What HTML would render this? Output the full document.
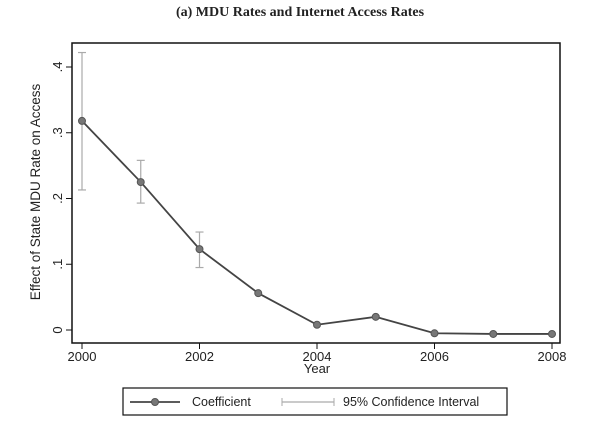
<!DOCTYPE html>
<html><head><meta charset="utf-8"><style>
body{margin:0;background:#fff;width:600px;height:442px;overflow:hidden}
svg{display:block}
text{font-family:"Liberation Sans",sans-serif;fill:#222}
</style></head><body>
<svg width="600" height="442">
<text x="300" y="16" text-anchor="middle" style="font-family:'Liberation Serif',serif;font-size:14px;font-weight:bold">(a) MDU Rates and Internet Access Rates</text>
<rect x="72" y="43" width="488" height="300" fill="none" stroke="#111" stroke-width="1.5"/>
<g id="axes"></g><g id="ci"></g><g id="series"></g>
<text x="0" y="0" transform="translate(40,192) rotate(-90)" text-anchor="middle" font-size="13.5">Effect of State MDU Rate on Access</text>
<text x="317" y="373" text-anchor="middle" font-size="13">Year</text>
<g>
<rect x="123" y="388" width="384" height="27" fill="none" stroke="#111" stroke-width="1.2"/>
<line x1="130" y1="402" x2="180" y2="402" stroke="#444" stroke-width="1.8"/>
<circle cx="155" cy="402" r="3.5" fill="#777" stroke="#555"/>
<text x="192" y="406" font-size="12.5">Coefficient</text>
<line x1="282" y1="402" x2="334" y2="402" stroke="#aaa" stroke-width="1.2"/>
<line x1="282" y1="398" x2="282" y2="406" stroke="#aaa"/><line x1="334" y1="398" x2="334" y2="406" stroke="#aaa"/>
<text x="343" y="406" font-size="12.5">95% Confidence Interval</text>
</g>
</svg>
<script>
const years=[2000,2001,2002,2003,2004,2005,2006,2007,2008];
const coef=[0.318,0.225,0.123,0.056,0.008,0.020,-0.005,-0.006,-0.006];
const ciLow=[0.213,0.193,0.095,null,null,null,null,null,null];
const ciHigh=[0.422,0.258,0.149,null,null,null,null,null,null];
const xTicks=[2000,2002,2004,2006,2008];
const yTicks=[0,0.1,0.2,0.3,0.4];
const yLabels=["0",".1",".2",".3",".4"];
const NS="http://www.w3.org/2000/svg";
const X=v=>82+(v-2000)*58.75, Y=v=>330-v*657.5;
function mk(tag,attrs,parent){const e=document.createElementNS(NS,tag);for(const k in attrs)e.setAttribute(k,attrs[k]);parent.appendChild(e);return e;}
const ax=document.getElementById('axes');
xTicks.forEach(t=>{mk('line',{x1:X(t),x2:X(t),y1:343,y2:349,stroke:'#111'},ax);
 const tx=mk('text',{x:X(t),y:361,'text-anchor':'middle','font-size':13},ax);tx.textContent=t;
 
 });
yTicks.forEach((t,i)=>{mk('line',{x1:66,x2:72,y1:Y(t),y2:Y(t),stroke:'#111'},ax);
 const tx=mk('text',{x:0,y:0,transform:`translate(62,${Y(t)}) rotate(-90)`,'text-anchor':'middle','font-size':13},ax);tx.textContent=yLabels[i];
 
 });
const ci=document.getElementById('ci');
years.forEach((y,i)=>{if(ciLow[i]==null)return;const x=X(y);
 const g=mk('g',{stroke:'#aaa','stroke-width':1.2},ci);
 
 
 mk('line',{x1:x,x2:x,y1:Y(ciLow[i]),y2:Y(ciHigh[i])},g);
 mk('line',{x1:x-4,x2:x+4,y1:Y(ciLow[i]),y2:Y(ciLow[i])},g);
 mk('line',{x1:x-4,x2:x+4,y1:Y(ciHigh[i]),y2:Y(ciHigh[i])},g);});
const s=document.getElementById('series');
const pl=mk('polyline',{points:years.map((y,i)=>X(y)+','+Y(coef[i])).join(' '),fill:'none',stroke:'#444','stroke-width':1.8},s);


years.forEach((y,i)=>{const c=mk('circle',{cx:X(y),cy:Y(coef[i]),r:3.5,fill:'#777',stroke:'#555'},s);
 
 });
</script>
</body></html>
